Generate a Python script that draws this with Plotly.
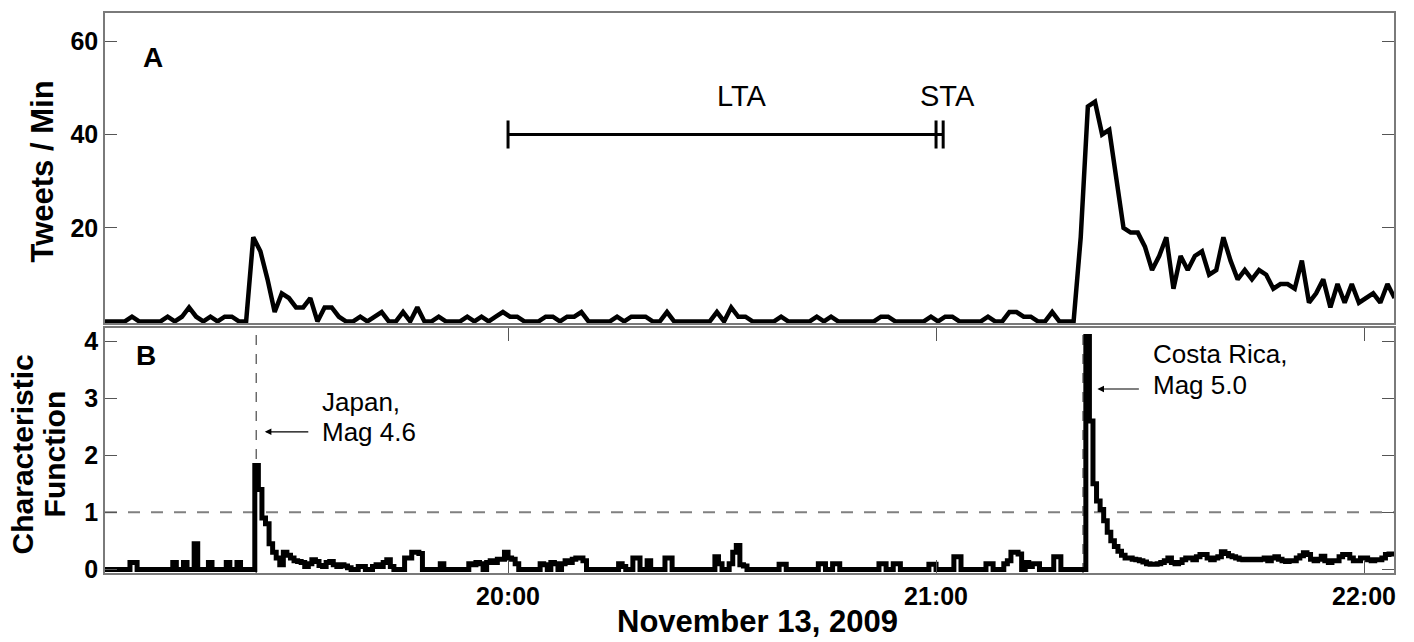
import plotly.graph_objects as go
import pandas as pd

# ---------------- data ----------------
tweet_start = "2009-11-13 19:03:17"
tweets_per_min = [
    0, 0, 0, 0, 1, 0, 0, 0, 0, 1, 0, 1, 3, 1, 0, 1, 0, 1, 1, 0,
    0, 18, 15, 9, 2, 6, 5, 3, 3, 5, 0, 3, 3, 1, 0, 0, 1, 0, 1, 2,
    0, 0, 2, 0, 3, 0, 0, 1, 0, 0, 0, 1, 0, 1, 0, 1, 2, 1, 1, 0,
    0, 0, 1, 1, 0, 1, 1, 2, 0, 0, 0, 0, 1, 0, 1, 1, 1, 0, 0, 2,
    0, 0, 0, 0, 0, 0, 2, 0, 3, 1, 1, 0, 0, 0, 0, 1, 0, 0, 0, 0,
    1, 0, 1, 0, 0, 0, 0, 0, 0, 1, 1, 0, 0, 0, 0, 0, 1, 0, 1, 1,
    0, 0, 0, 0, 1, 0, 0, 2, 2, 1, 1, 0, 0, 2, 0, 0, 0, 18, 46, 47,
    40, 41, 30, 20, 19, 19, 16, 11, 14, 18, 7, 14, 11, 14, 15, 10, 11, 18, 13, 9,
    11, 9, 11, 10, 7, 8, 8, 7, 13, 4, 6, 9, 3, 8, 4, 8, 4, 5, 6, 4,
    8, 5,
]

cf_start = "2009-11-13 19:03:30"
cf_values = [
    0, 0, 0, 0, 0, 0, 0, 0.12, 0.12, 0, 0, 0, 0, 0, 0, 0, 0, 0, 0, 0.12,
    0, 0, 0.12, 0, 0, 0.45, 0, 0, 0, 0.12, 0, 0, 0, 0, 0.12, 0, 0, 0.12, 0, 0,
    0, 0, 1.82, 1.4, 0.9, 0.8, 0.45, 0.3, 0.2, 0.08, 0.3, 0.25, 0.2, 0.15, 0.14, 0.12, 0.05, 0.1, 0.17, 0.14,
    0.07, 0.05, 0.12, 0.14, 0.08, 0.05, 0.08, 0.06, 0.03, 0, 0, 0.05, 0.05, 0, 0, 0.05, 0.08, 0.05, 0.12, 0.17,
    0.05, 0, 0, 0, 0.2, 0.2, 0.3, 0.3, 0.28, 0, 0, 0, 0, 0, 0.1, 0, 0, 0, 0, 0,
    0, 0, 0.1, 0.08, 0.12, 0.1, 0, 0.12, 0.15, 0.12, 0.18, 0.18, 0.3, 0.2, 0.18, 0.1, 0, 0, 0, 0,
    0, 0, 0.1, 0.08, 0, 0.12, 0.1, 0, 0.1, 0.15, 0.12, 0.18, 0.2, 0.2, 0.15, 0, 0, 0, 0, 0,
    0, 0, 0, 0, 0.1, 0.05, 0, 0, 0.2, 0.2, 0, 0, 0.15, 0, 0, 0, 0, 0.2, 0.2, 0,
    0, 0, 0, 0, 0, 0, 0, 0, 0, 0, 0, 0.22, 0.1, 0, 0, 0.1, 0.3, 0.42, 0.08, 0.06,
    0, 0, 0, 0, 0, 0, 0, 0, 0, 0.09, 0.09, 0, 0, 0, 0, 0, 0, 0, 0, 0,
    0.1, 0.1, 0, 0, 0.1, 0.1, 0, 0, 0, 0, 0, 0, 0, 0, 0, 0, 0, 0.1, 0.1, 0,
    0, 0.1, 0.1, 0, 0, 0, 0, 0, 0, 0, 0, 0.09, 0.09, 0, 0, 0, 0, 0, 0.22, 0.22,
    0, 0, 0, 0, 0, 0, 0, 0.1, 0.1, 0, 0, 0, 0.1, 0.15, 0.3, 0.3, 0.27, 0, 0.12, 0.05,
    0.1, 0.1, 0, 0, 0, 0, 0.22, 0.22, 0, 0, 0, 0, 0, 0, 0, 4.08, 2.6, 1.5, 1.2, 1.05,
    0.85, 0.65, 0.5, 0.4, 0.32, 0.25, 0.2, 0.2, 0.18, 0.17, 0.15, 0.13, 0.1, 0.09, 0.09, 0.1, 0.12, 0.15, 0.2, 0.12,
    0.1, 0.12, 0.17, 0.2, 0.2, 0.17, 0.22, 0.26, 0.26, 0.2, 0.17, 0.2, 0.22, 0.31, 0.28, 0.24, 0.22, 0.2, 0.18, 0.17,
    0.18, 0.17, 0.18, 0.17, 0.18, 0.2, 0.15, 0.2, 0.22, 0.18, 0.15, 0.14, 0.15, 0.15, 0.2, 0.24, 0.29, 0.26, 0.18, 0.15,
    0.18, 0.23, 0.15, 0.12, 0.15, 0.15, 0.22, 0.26, 0.26, 0.2, 0.15, 0.15, 0.2, 0.2, 0.17, 0.15, 0.17, 0.17, 0.2, 0.26,
    0.27, 0.27, 0.27,
]

event_times = ["2009-11-13 19:24:42", "2009-11-13 21:20:36"]
event_labels = [["Japan,", "Mag 4.6"], ["Costa Rica,", "Mag 5.0"]]
lta_window = ["2009-11-13 20:00:00", "2009-11-13 21:00:00"]
sta_window = ["2009-11-13 21:00:00", "2009-11-13 21:01:00"]
window_level = 40
window_cap = 3
trigger_level = 1
x_range = ["2009-11-13 19:03:30", "2009-11-13 22:04:12"]
x_tick_vals = ["2009-11-13 20:00", "2009-11-13 21:00", "2009-11-13 22:00"]
x_tick_text = ["20:00", "21:00", "22:00"]
y1_ticks = [20, 40, 60]
y2_ticks = [0, 1, 2, 3, 4]

tweet_times = pd.date_range(tweet_start, periods=len(tweets_per_min), freq="1min")
cf_times = pd.date_range(cf_start, periods=len(cf_values), freq="30s")

# ---------------- figure ----------------
W, H = 1414, 642
ML, MR, MT, MB = 105, 20, 11, 69
PW, PH = W - ML - MR, H - MT - MB
FONT = "Liberation Sans, Arial, Helvetica, sans-serif"


def px(xp, yp):
    return (xp - ML) / PW, (H - MB - yp) / PH


fig = go.Figure()

fig.add_trace(go.Scatter(
    x=tweet_times, y=tweets_per_min, mode="lines",
    line=dict(color="black", width=4.5), xaxis="x", yaxis="y", showlegend=False))

# LTA / STA windows
bx = [lta_window[0], sta_window[1], None,
      lta_window[0], lta_window[0], None,
      lta_window[1], lta_window[1], None,
      sta_window[1], sta_window[1]]
by = [window_level, window_level, None,
      window_level - window_cap, window_level + window_cap, None,
      window_level - window_cap, window_level + window_cap, None,
      window_level - window_cap, window_level + window_cap]
fig.add_trace(go.Scatter(x=bx, y=by, mode="lines", line=dict(color="black", width=3),
                         xaxis="x", yaxis="y", showlegend=False))

fig.add_trace(go.Scatter(
    x=cf_times, y=cf_values, mode="lines", line_shape="hv",
    line=dict(color="black", width=5), xaxis="x2", yaxis="y2", showlegend=False))

shapes = []
for t in event_times:
    shapes.append(dict(type="line", xref="x2", yref="y2 domain", x0=t, x1=t, y0=0, y1=1,
                       line=dict(color="#555555", width=1.3, dash="10px,9px"), layer="below"))
shapes.append(dict(type="line", xref="x2 domain", yref="y2", x0=0, x1=1,
                   y0=trigger_level, y1=trigger_level,
                   line=dict(color="#808080", width=2, dash="12px,11px"), layer="below"))

axis_common = dict(showline=True, linecolor="#7a7a7a", linewidth=1.5, showgrid=False,
                   zeroline=False, tickcolor="#555555", tickwidth=1.2)
tickfont = dict(family=FONT, size=25, color="black", weight="bold")

annotations = []


def text(xp, yp, s, size, bold=False, xanchor="center", angle=0):
    x, y = px(xp, yp)
    annotations.append(dict(xref="paper", yref="paper", x=x, y=y, text=s, showarrow=False,
                            xanchor=xanchor, yanchor="middle", textangle=angle,
                            font=dict(family=FONT, size=size, color="black",
                                      weight="bold" if bold else "normal")))


text(153, 56, "A", 28, bold=True)
text(146, 355, "B", 28, bold=True)
text(742, 94, "LTA", 29)
text(947, 94, "STA", 29)
text(320, 401, event_labels[0][0], 26, xanchor="left")
text(320, 431, event_labels[0][1], 26, xanchor="left")
text(1151, 353, event_labels[1][0], 26, xanchor="left")
text(1151, 384, event_labels[1][1], 26, xanchor="left")
text(42, 170, "Tweets / Min", 31, bold=True, angle=-90)
text(22, 454, "Characteristic", 30, bold=True, angle=-90)
text(54, 454, "Function", 30, bold=True, angle=-90)
text(757, 622, "November 13, 2009", 31, bold=True)

# arrows to the events
arrow_heads = [("2009-11-13 19:25:54", 2.41, 45), ("2009-11-13 21:22:37", 3.16, 43)]
for hx, hy, off in arrow_heads:
    annotations.append(dict(xref="x2", yref="y2", x=hx, y=hy, text="", showarrow=True,
                            ax=off, ay=0, axref="pixel", ayref="pixel",
                            arrowhead=2, arrowsize=1.1, arrowwidth=1.2,
                            arrowcolor="black", standoff=0, startstandoff=0))

fig.update_layout(
    width=W, height=H,
    margin=dict(l=ML, r=MR, t=MT, b=MB),
    paper_bgcolor="white", plot_bgcolor="white",
    font=dict(family=FONT, color="black"),
    showlegend=False,
    shapes=shapes,
    annotations=annotations,
    xaxis=dict(domain=[0, 1], anchor="y", range=x_range, type="date",
               mirror=True, ticks="", showticklabels=False, **axis_common),
    yaxis=dict(domain=[0.4466, 1], anchor="x", range=[-0.32, 66.0],
               tickvals=y1_ticks, ticks="inside", ticklen=12, mirror="ticks",
               tickfont=tickfont, **axis_common),
    xaxis2=dict(domain=[0, 1], anchor="y2", range=x_range, type="date",
                tickvals=x_tick_vals, ticktext=x_tick_text,
                ticks="inside", ticklen=13, mirror="ticks",
                tickfont=tickfont, **axis_common),
    yaxis2=dict(domain=[0, 0.4377], anchor="x2", range=[-0.063, 4.23],
                tickvals=y2_ticks, ticks="inside", ticklen=12, mirror="ticks",
                tickfont=tickfont, **axis_common),
)

fig.write_html("out.html", config={"displayModeBar": False},
               post_script="document.body.style.margin='0px';"
               "document.body.style.overflow='hidden';")
